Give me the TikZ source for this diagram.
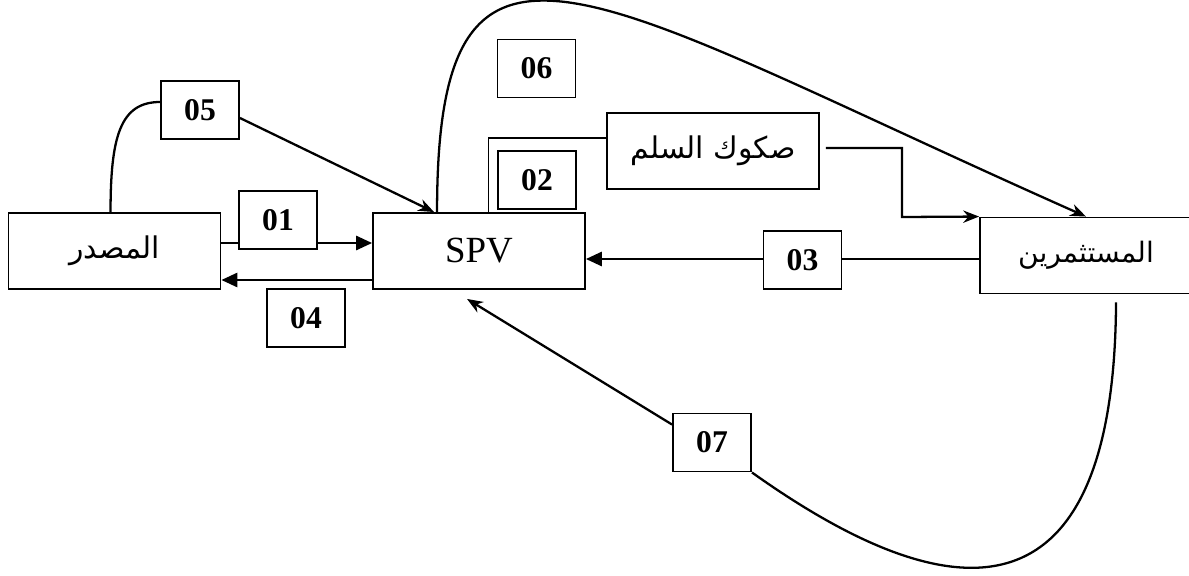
\documentclass[tikz,border=0pt]{standalone}
\usepackage{fontspec}
\setmainfont{Liberation Serif}
\newfontfamily\arabicfont[Script=Arabic]{DejaVu Sans}
\TeXXeTstate=1
\usetikzlibrary{arrows.meta,calc}
\pgfdeclarelayer{background}
\pgfsetlayers{background,main}

\begin{document}
\begin{tikzpicture}[x=0.02cm, y=-0.02cm,
        party/.style={draw, line width=1.1pt, fill=white, minimum width=4.24cm, minimum height=1.52cm, inner sep=0pt},
        numbox/.style={draw, line width=1.1pt, fill=white, minimum width=1.56cm, minimum height=1.16cm, inner sep=0pt, font=\fontsize{18}{20}\selectfont\bfseries},
        flow/.style={line width=1.3pt},
        tri/.style={-{Triangle[length=9pt,width=8pt]}},
        stl/.style={-{Stealth[length=9pt,width=7pt]}}]
        \useasboundingbox (0,0) rectangle (1189,575);

        % parties
        \node[party] (src) at (114.5,251) {\fontsize{17}{20}\selectfont\arabicfont\beginR المصدر\endR};
        \node[party] (spv) at (479,251) {\fontsize{21}{24}\selectfont SPV};
        \node[party] (sukuk) at (713,151) {\fontsize{17}{20}\selectfont\raisebox{4pt}{\arabicfont\beginR صكوك السلم\endR}};
        \node[party] (inv) at (1086,255.5) {\fontsize{16}{20}\selectfont\arabicfont\beginR المستثمرين\endR};

        % step numbers
        \node[numbox] (n01) at (278,220) {01};
        \node[numbox] (n02) at (537,180) {02};
        \node[numbox] (n03) at (802.5,260) {03};
        \node[numbox] (n04) at (306,318) {04};
        \node[numbox] (n05) at (200,110) {05};
        \node[numbox] (n06) at (536.5,68.5) {06};
        \node[numbox] (n07) at (712,442.5) {07};

        \coordinate (k02) at (902,217);

        \begin{pgfonlayer}{background}
            \draw[flow,tri] ([yshift=0.16cm]src.east) -- ([yshift=0.16cm]spv.west);
            \draw[flow,tri] ([yshift=-0.07cm]inv.west) -- ([yshift=-0.07cm]inv.west -| spv.east);
        \end{pgfonlayer}
        \draw[flow,tri] ([yshift=-0.58cm]spv.west) -- ([yshift=-0.58cm]src.east);

        % issue of the certificates
        \draw[line width=0.6pt] ([xshift=2.32cm]spv.north west) |- ([yshift=0.26cm]sukuk.west);
        \draw[flow,stl] ([xshift=0.12cm,yshift=0.06cm]sukuk.east) -| (k02) -- (inv.north west);

        % goods delivered
        \draw[flow] ([xshift=2.06cm]src.north west) .. controls +(0,-75) and +(-40,0) .. ([yshift=0.16cm]n05.west);
        \draw[flow,stl] ([yshift=-0.16cm]n05.east) -- ([xshift=1.24cm]spv.north west);

        % sale to the investors
        \draw[flow,stl] ([xshift=1.3cm]spv.north west) .. controls +(0,-340) and +(-500,-222) .. (inv.north);

        % settlement back to the SPV
        \draw[flow] ([xshift=2.74cm,yshift=-0.16cm]inv.south west) .. controls +(-2,372) and +(149,106) .. (n07.south east);
        \draw[flow,stl] ([yshift=-0.24cm]n07.north west) -- ([xshift=1.9cm,yshift=-0.18cm]spv.south west);
    \end{tikzpicture}
\end{document}
